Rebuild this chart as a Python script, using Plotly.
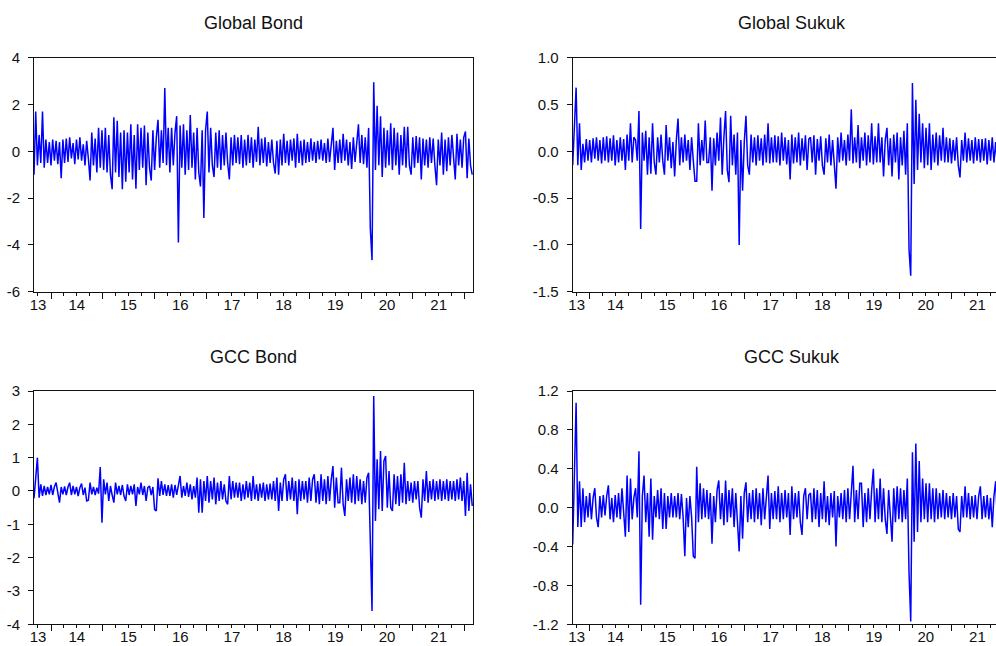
import pandas as pd
import plotly.graph_objects as go

start_date = "2013-09-03"
step_days = 12

global_bond = [
    -1.0, 1.7, -0.6, 0.7, -0.5, 1.7, -0.7, 0.5, -0.5, 0.4, -0.6, 0.5, -0.4, 0.45, -0.55, 0.4, -1.15, 0.5, -0.5, 0.55,
    -0.45, 0.6, -0.3, 0.35, -0.55, 0.5, -0.35, 0.6, -0.4, 0.3, -0.6, 0.45, -0.3, -1.25, 0.8, -0.6, 0.55, -0.9, 1.0, -0.7,
    0.9, -0.8, 1.0, -0.9, 0.7, -1.0, -1.62, 1.45, -0.9, 1.3, -1.1, 0.8, -1.62, 0.9, -1.3, 0.8, -0.9, 1.15, -1.2, 0.7,
    -1.6, 1.15, -0.8, 1.0, -0.7, 1.1, -1.45, 0.8, -0.7, -1.25, 0.9, -0.8, 0.6, 1.35, -0.7, 0.9, -0.5, 2.7, -0.6, 1.0,
    -0.9, 1.0, -0.6, 0.8, 1.5, -3.9, 1.1, -0.7, 1.15, -1.0, 0.9, -0.8, 1.55, -0.7, 0.8, -1.2, 1.0, -0.9, -1.5, 0.9,
    -2.85, 0.9, 1.7, -0.9, 1.0, -0.6, -1.1, 0.8, -0.7, 0.9, -0.8, 0.7, -0.6, 0.8, -0.5, -1.2, 0.6, -0.6, 0.7, -0.5,
    0.6, -0.55, 0.7, -0.7, 0.5, -0.6, 0.7, -0.5, 0.6, -0.7, 0.5, -0.45, 1.05, -0.6, 0.55, -0.5, 0.6, -0.65, 0.4, -0.5,
    0.5, -0.5, -0.95, 0.45, -1.0, 0.5, -0.6, 0.75, -0.5, 0.45, -0.6, 0.5, -0.4, 0.55, -0.7, 0.75, -0.5, 0.45, -0.6, 0.5,
    -0.5, 0.4, -0.45, 0.55, -0.4, 0.4, -0.5, 0.45, -0.35, 0.5, -0.4, 0.35, -0.5, 0.55, -0.45, 0.4, 1.0, -0.8, 0.45, -0.5,
    0.5, -0.5, 0.75, -0.4, 0.5, -0.6, 0.4, -0.75, 0.6, -0.45, 0.55, 1.15, -0.5, 0.7, -0.55, 0.6, -0.7, 1.0, -3.3, -4.65,
    2.95, -0.8, 1.95, -0.6, 1.5, -1.1, 1.0, -0.7, 0.9, -0.6, 1.2, -0.8, 1.0, -0.6, 0.8, -1.0, 0.7, -0.6, 1.05, -0.7,
    1.05, -0.6, -1.0, 0.6, -0.7, 0.65, -0.5, 0.6, -1.2, 0.55, -0.6, 0.5, -0.7, 0.6, -0.5, 0.55, -0.6, -1.45, 0.5, -0.6,
    0.8, -1.0, 0.5, -0.85, 0.6, -0.6, 0.7, -0.5, -1.2, 0.75, -0.6, 0.5, -0.7, 0.6, 0.85, -1.15, 0.55, -0.6, -1.0,
]

global_sukuk = [
    -0.15, 0.37, 0.68, -0.15, 0.3, -0.2, 0.08, -0.12, 0.13, -0.1, 0.12, -0.12, 0.14, -0.08, 0.15, -0.1, 0.12, -0.13, 0.15, -0.1,
    0.16, -0.12, 0.14, -0.1, 0.17, -0.15, 0.12, -0.12, 0.15, -0.1, 0.13, -0.2, 0.18, -0.1, 0.3, -0.12, 0.15, 0.12, -0.1, 0.43,
    -0.83, 0.2, -0.1, 0.22, -0.25, 0.15, -0.24, 0.3, -0.12, -0.25, 0.15, -0.12, 0.18, -0.1, -0.25, 0.28, -0.1, 0.15, -0.18, 0.1,
    -0.27, 0.12, 0.35, -0.15, 0.15, -0.12, 0.18, -0.1, 0.12, -0.2, 0.15, -0.1, -0.32, -0.32, 0.3, -0.15, 0.12, -0.1, 0.33, -0.12,
    -0.12, 0.15, -0.42, 0.14, -0.15, 0.2, -0.1, 0.36, -0.25, 0.15, 0.43, -0.2, -0.33, 0.38, -0.15, 0.18, -0.25, 0.2, -1.0, 0.12,
    -0.42, 0.1, 0.38, -0.15, -0.25, 0.18, -0.12, 0.15, -0.15, 0.17, -0.1, 0.14, -0.15, 0.18, -0.12, 0.3, -0.13, 0.15, -0.12, 0.17,
    -0.12, 0.16, -0.15, 0.2, -0.1, 0.15, -0.14, 0.12, -0.3, 0.18, -0.13, 0.15, -0.12, 0.2, -0.15, 0.14, -0.1, 0.17, -0.2, 0.13,
    0.15, -0.12, 0.17, -0.25, 0.13, -0.1, 0.16, -0.15, -0.25, 0.14, -0.12, 0.18, -0.15, 0.12, -0.12, -0.4, 0.15, -0.12, 0.2, -0.1,
    0.12, -0.15, 0.18, -0.1, 0.45, -0.13, 0.15, -0.12, 0.28, -0.18, 0.15, -0.1, 0.2, -0.15, 0.17, -0.12, 0.3, -0.14, 0.16, -0.12,
    0.3, -0.12, 0.15, -0.27, 0.12, 0.25, -0.15, 0.14, -0.27, 0.18, -0.12, 0.2, -0.3, 0.15, -0.15, 0.22, -0.25, 0.3, -1.05, -1.33,
    0.73, -0.35, 0.55, -0.2, 0.4, -0.12, 0.3, -0.18, 0.25, -0.15, 0.3, -0.2, 0.18, -0.12, 0.2, -0.15, 0.17, -0.1, 0.25, -0.12,
    0.15, -0.12, 0.14, -0.13, 0.12, -0.1, 0.15, -0.15, -0.28, 0.12, -0.1, 0.2, -0.12, 0.14, -0.1, 0.12, -0.13, 0.15, -0.1, 0.13,
    -0.12, 0.13, -0.1, 0.14, -0.14, 0.12, -0.1, 0.15, -0.12, 0.1, -0.15, 0.13, -0.1, 0.2, -0.12, 0.12, -0.1, 0.14, -0.08,
]

gcc_bond = [
    -0.22, 0.55, 1.0, -0.2, 0.2, -0.15, 0.15, -0.12, 0.12, -0.1, 0.18, -0.12, 0.13, 0.25, -0.1, -0.35, 0.12, -0.1, 0.14, -0.12,
    0.12, 0.25, -0.12, 0.15, -0.1, 0.12, -0.15, 0.1, 0.22, -0.12, 0.1, -0.3, -0.28, 0.25, -0.1, 0.12, -0.12, 0.1, -0.08, 0.72,
    -0.95, 0.35, -0.1, 0.25, -0.3, 0.15, -0.12, -0.35, 0.25, -0.1, 0.15, -0.12, 0.18, -0.15, -0.3, 0.2, -0.12, 0.15, -0.1, 0.2,
    -0.45, 0.12, -0.1, 0.25, -0.12, 0.15, -0.3, 0.1, 0.15, -0.12, 0.12, -0.55, -0.6, 0.38, -0.15, 0.3, -0.12, 0.2, -0.15, 0.18,
    -0.15, 0.2, -0.2, 0.18, -0.12, 0.22, 0.45, -0.2, 0.15, -0.15, 0.25, -0.18, 0.2, -0.25, 0.15, -0.2, 0.4, -0.65, 0.35, -0.65,
    0.3, -0.3, 0.45, -0.35, 0.3, -0.25, 0.4, -0.4, 0.25, -0.3, 0.3, -0.25, 0.2, -0.3, -0.4, 0.45, -0.25, 0.3, -0.2, 0.25,
    -0.2, 0.25, -0.3, 0.2, -0.25, 0.3, -0.2, 0.25, -0.3, 0.45, -0.25, 0.2, -0.3, 0.22, -0.2, 0.25, -0.3, 0.2, -0.25, 0.22,
    -0.25, 0.3, -0.3, 0.4, -0.6, 0.25, -0.3, 0.35, 0.5, -0.3, 0.3, -0.25, 0.4, -0.3, 0.3, -0.7, 0.35, -0.3, 0.3, -0.25,
    0.3, -0.35, 0.4, -0.3, 0.35, 0.5, -0.35, 0.3, -0.4, 0.5, -0.3, 0.35, -0.4, 0.45, -0.3, 0.35, 0.75, -0.5, 0.4, -0.35,
    -0.35, 0.7, -0.4, -0.75, 0.35, -0.3, 0.4, -0.35, 0.5, -0.4, 0.45, -0.3, 0.35, -0.4, 0.3, -0.35, 0.4, 0.55, -1.4, -3.6,
    2.85, -0.9, 0.95, -0.55, 1.2, -0.6, 0.9, 1.05, -0.5, 0.6, -0.5, -0.6, 0.5, -0.4, 0.45, -0.45, 0.5, -0.35, 0.85, -0.4,
    0.3, -0.3, 0.25, -0.35, 0.3, -0.25, 0.3, -0.5, -0.8, 0.35, -0.3, 0.6, -0.35, 0.3, -0.25, 0.35, -0.3, 0.3, -0.25, 0.35,
    -0.3, 0.3, -0.25, 0.35, -0.3, 0.3, -0.25, 0.3, -0.3, 0.35, -0.25, 0.4, -0.3, 0.3, -0.75, 0.55, -0.6, 0.2, -0.45,
]

gcc_sukuk = [
    -0.38, 0.5, 1.08, -0.2, 0.27, -0.2, 0.2, -0.15, 0.12, -0.1, 0.15, -0.12, 0.1, 0.2, -0.1, -0.2, 0.12, -0.1, 0.13, -0.08,
    0.12, 0.23, -0.12, 0.1, -0.15, 0.13, -0.1, 0.15, -0.12, 0.2, -0.1, -0.3, 0.33, -0.25, 0.3, -0.12, 0.1, 0.2, -0.1, 0.58,
    -1.0, 0.12, 0.33, -0.15, 0.15, -0.3, 0.3, -0.33, 0.12, -0.1, 0.18, -0.12, 0.2, -0.22, 0.15, -0.22, 0.12, -0.1, 0.15, -0.1,
    0.12, -0.1, 0.15, -0.12, 0.14, -0.1, -0.5, 0.1, -0.2, 0.12, -0.1, -0.5, -0.52, 0.42, -0.15, 0.25, -0.12, 0.2, -0.1, 0.18,
    -0.12, 0.15, -0.37, 0.12, -0.15, 0.18, 0.28, -0.12, 0.15, -0.18, 0.28, -0.15, 0.18, -0.1, 0.2, -0.2, 0.15, -0.12, -0.45, 0.12,
    -0.32, 0.15, 0.26, -0.15, 0.15, -0.12, 0.18, -0.15, 0.2, -0.12, 0.15, -0.18, 0.2, -0.12, 0.15, 0.33, -0.22, 0.15, -0.12, 0.17,
    -0.12, 0.22, -0.15, 0.15, -0.12, 0.18, -0.1, 0.15, -0.28, 0.22, -0.12, 0.15, -0.1, 0.17, -0.15, -0.28, 0.12, 0.2, -0.12, 0.13,
    0.15, -0.15, 0.2, -0.12, 0.18, -0.2, 0.15, -0.12, 0.27, -0.15, 0.12, -0.18, 0.15, -0.1, 0.17, -0.4, 0.12, -0.1, 0.15, -0.12,
    0.18, -0.15, 0.2, -0.12, 0.15, 0.43, -0.15, 0.18, -0.12, 0.25, 0.25, -0.2, 0.15, -0.15, 0.2, -0.12, 0.18, 0.4, -0.15, 0.2,
    -0.12, 0.3, -0.15, 0.2, -0.12, -0.27, 0.18, -0.15, -0.35, 0.2, -0.15, 0.22, -0.12, 0.2, -0.15, 0.18, -0.12, 0.3, -0.67, -1.17,
    0.57, -0.35, 0.66, -0.25, 0.48, -0.15, 0.3, -0.12, 0.25, -0.15, 0.25, -0.12, 0.2, -0.15, 0.2, -0.12, 0.15, -0.1, 0.18, -0.12,
    0.15, -0.1, 0.12, -0.12, 0.15, -0.1, 0.12, -0.22, -0.25, 0.12, -0.1, 0.22, -0.1, 0.15, -0.12, 0.12, -0.1, 0.13, -0.12, 0.12,
    0.22, -0.12, 0.12, -0.1, 0.13, -0.12, 0.1, -0.2, 0.12, 0.27, -0.12, 0.1, -0.1, 0.12, -0.1, 0.1, -0.12, 0.1, -0.08,
]

titles = ["Global Bond", "Global Sukuk", "GCC Bond", "GCC Sukuk"]

year_labels = ["13", "14", "15", "16", "17", "18", "19", "20", "21"]
label_dates = ["2013-10-01", "2014-07-02", "2015-07-02", "2016-07-02", "2017-07-02",
               "2018-07-02", "2019-07-02", "2020-07-02", "2021-07-02"]
year_starts = ["2014-01-01", "2015-01-01", "2016-01-01", "2017-01-01", "2018-01-01",
               "2019-01-01", "2020-01-01", "2021-01-01", "2022-01-01"]

gb_ticks = [4, 2, 0, -2, -4, -6]
gb_ticktext = ["4", "2", "0", "-2", "-4", "-6"]
gs_ticks = [1.0, 0.5, 0.0, -0.5, -1.0, -1.5]
gs_ticktext = ["1.0", "0.5", "0.0", "-0.5", "-1.0", "-1.5"]
cb_ticks = [3, 2, 1, 0, -1, -2, -3, -4]
cb_ticktext = ["3", "2", "1", "0", "-1", "-2", "-3", "-4"]
cs_ticks = [1.2, 0.8, 0.4, 0.0, -0.4, -0.8, -1.2]
cs_ticktext = ["1.2", "0.8", "0.4", "0.0", "-0.4", "-0.8", "-1.2"]

# ---------------- layout geometry ----------------
W, H = 996, 646
FONT = "Liberation Sans, Arial, sans-serif"
INK = "#111111"
BLUE = "#0000FF"

left_px = (34, 473)
right_px = (572.7, 996)
right_full_w = 439
top_py = (57.7, 291.7)
bot_py = (391, 624.3)

px_per_day = 51.7 / 365.25
d2014 = pd.Timestamp("2014-01-01")
d0 = d2014 - pd.Timedelta(days=(51 - 34) / px_per_day)
d1 = d2014 + pd.Timedelta(days=(473 - 51) / px_per_day)
dr = d0 + (d1 - d0) * ((right_px[1] - right_px[0]) / right_full_w)


def xdom(px):
    return [px[0] / W, px[1] / W]


def ydom(py):
    return [1 - py[1] / H, 1 - py[0] / H]


panels = [
    dict(title=titles[0], values=global_bond, xpx=left_px, ypy=top_py, yr=[-6, 4],
         tv=gb_ticks, tt=gb_ticktext, right=False, tx=253),
    dict(title=titles[1], values=global_sukuk, xpx=right_px, ypy=top_py, yr=[-1.5, 1.0],
         tv=gs_ticks, tt=gs_ticktext, right=True, tx=792),
    dict(title=titles[2], values=gcc_bond, xpx=left_px, ypy=bot_py, yr=[-4, 3],
         tv=cb_ticks, tt=cb_ticktext, right=False, tx=253),
    dict(title=titles[3], values=gcc_sukuk, xpx=right_px, ypy=bot_py, yr=[-1.2, 1.2],
         tv=cs_ticks, tt=cs_ticktext, right=True, tx=792),
]

fig = go.Figure()
layout = {}
for k, p in enumerate(panels, start=1):
    sfx = "" if k == 1 else str(k)
    lab = str(k + 4)
    dates = pd.date_range(start_date, periods=len(p["values"]), freq=f"{step_days}D")
    fig.add_trace(go.Scatter(x=dates, y=p["values"], mode="lines",
                             line=dict(color=BLUE, width=1.5),
                             xaxis="x" + sfx, yaxis="y" + sfx,
                             showlegend=False, hoverinfo="skip"))
    fig.add_trace(go.Scatter(x=[], y=[], mode="lines", xaxis="x" + lab, yaxis="y" + sfx,
                             showlegend=False, hoverinfo="skip"))
    xr = [d0.isoformat(), (dr if p["right"] else d1).isoformat()]
    layout["xaxis" + sfx] = dict(
        domain=xdom(p["xpx"]), range=xr, type="date", anchor="y" + sfx,
        showline=True, mirror=True, linecolor=INK, linewidth=1,
        ticks="outside", ticklen=6, tickwidth=1, tickcolor=INK,
        tickmode="array", tickvals=year_starts, showticklabels=False,
        showgrid=False, zeroline=False, automargin=False,
        minor=dict(dtick="M3", tick0="2013-01-01", ticks="outside", ticklen=3,
                   tickwidth=1, tickcolor=INK, showgrid=False),
    )
    layout["xaxis" + lab] = dict(
        overlaying="x" + sfx, anchor="y" + sfx, side="bottom", range=xr, type="date",
        tickmode="array", tickvals=label_dates, ticktext=year_labels,
        ticks="", showline=False, showgrid=False, zeroline=False, automargin=False,
        tickfont=dict(family=FONT, size=15, color=INK), ticklabelstandoff=2,
    )
    layout["yaxis" + sfx] = dict(
        domain=ydom(p["ypy"]), range=p["yr"], anchor="x" + sfx,
        showline=True, mirror=(not p["right"]), linecolor=INK, linewidth=1,
        ticks="outside", ticklen=5, tickwidth=1, tickcolor=INK,
        tickmode="array", tickvals=p["tv"], ticktext=p["tt"],
        tickfont=dict(family=FONT, size=15, color=INK), ticklabelstandoff=5,
        showgrid=False, zeroline=False, automargin=False,
    )
    ty = 23 if p["ypy"] == top_py else 356.7
    fig.add_annotation(text=p["title"], x=p["tx"] / W, y=1 - ty / H, xref="paper", yref="paper",
                       showarrow=False, xanchor="center", yanchor="middle",
                       font=dict(family=FONT, size=18, color=INK))

fig.update_layout(
    width=W, height=H,
    margin=dict(l=0, r=0, t=0, b=0, pad=0, autoexpand=False),
    paper_bgcolor="white", plot_bgcolor="white",
    showlegend=False,
    **layout,
)

fig.write_html(
    "out.html",
    config={"displayModeBar": False},
    post_script=("document.documentElement.style.margin='0';"
                 "document.body.style.margin='0';"
                 "document.body.style.padding='0';"
                 "document.documentElement.style.overflow='hidden';"
                 "document.body.style.overflow='hidden';"),
)
